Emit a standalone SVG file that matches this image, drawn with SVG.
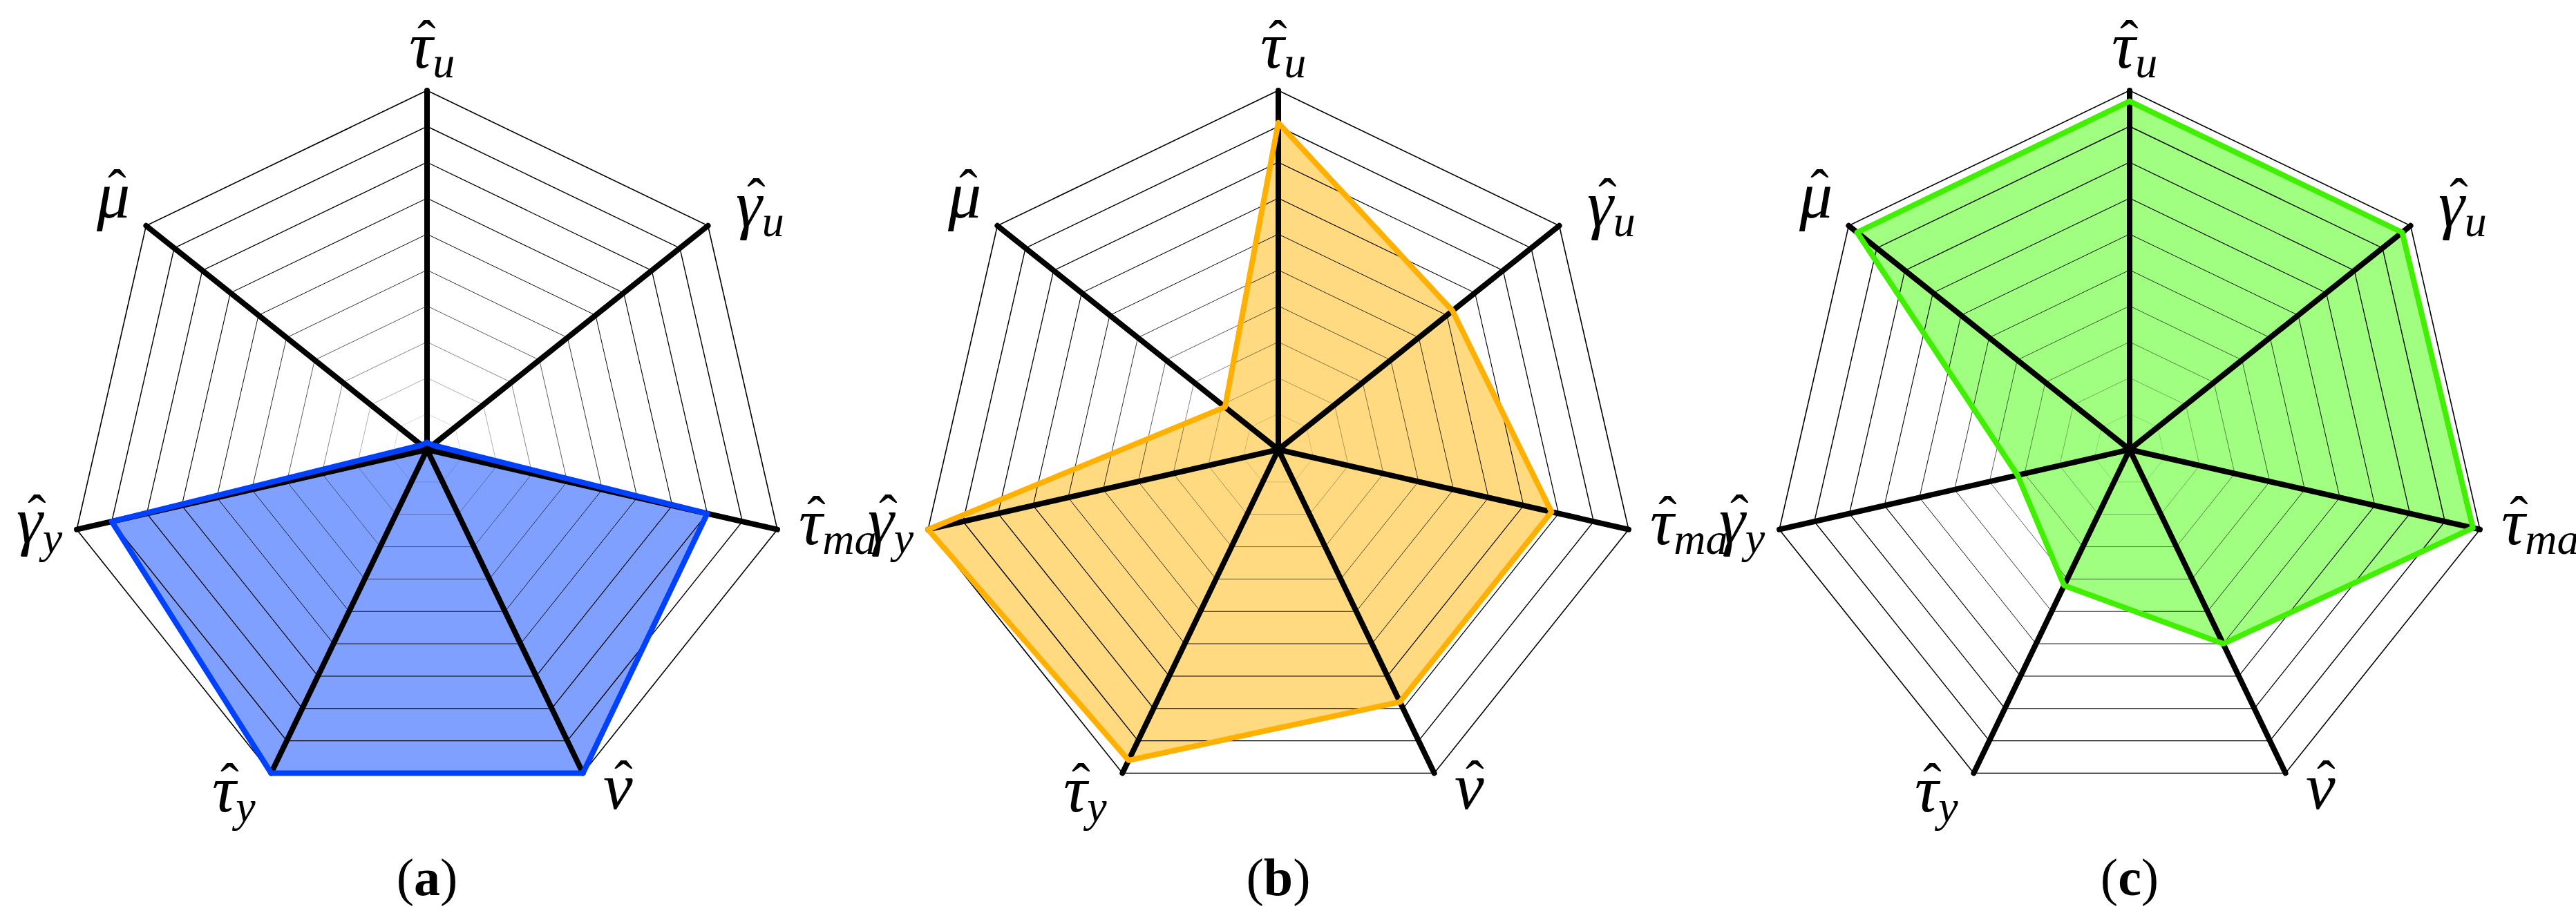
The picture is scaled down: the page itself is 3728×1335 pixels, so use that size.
<svg xmlns="http://www.w3.org/2000/svg" xmlns:xlink="http://www.w3.org/1999/xlink" width="3728" height="1335" viewBox="0 0 3728 1335">
<style>
.ring{fill:none;stroke:#000;stroke-width:1.6}
.axis{stroke:#000;stroke-width:8;stroke-linecap:round}
.lbl{font-family:"Liberation Serif",serif;font-style:italic;font-size:96px;fill:#000}
.sub{font-size:64px}
.hat{font-family:"Liberation Serif",serif;font-size:80px;fill:#000}
.cap{font-family:"Liberation Serif",serif;font-size:76px;fill:#000;text-anchor:middle}
.bold{font-weight:bold}
.da{fill:#80a0ff;stroke:none}.sa{fill:none;stroke:#0040ff;stroke-width:8;stroke-linejoin:round}
.db{fill:#ffda80;stroke:none}.sb{fill:none;stroke:#ffb000;stroke-width:8;stroke-linejoin:round}
.dc{fill:#a0ff80;stroke:none}.sc{fill:none;stroke:#40f000;stroke-width:8;stroke-linejoin:round}
</style>
<defs>
<polygon id="hep" points="0,-520 406.55,-324.21 506.96,115.71 225.62,468.5 -225.62,468.5 -506.96,115.71 -406.55,-324.21"/>
<g id="grid">
<use xlink:href="#hep" class="ring" transform="scale(0.1)" vector-effect="non-scaling-stroke"/>
<use xlink:href="#hep" class="ring" transform="scale(0.2)"/>
<use xlink:href="#hep" class="ring" transform="scale(0.3)"/>
<use xlink:href="#hep" class="ring" transform="scale(0.4)"/>
<use xlink:href="#hep" class="ring" transform="scale(0.5)"/>
<use xlink:href="#hep" class="ring" transform="scale(0.6)"/>
<use xlink:href="#hep" class="ring" transform="scale(0.7)"/>
<use xlink:href="#hep" class="ring" transform="scale(0.8)"/>
<use xlink:href="#hep" class="ring" transform="scale(0.9)"/>
<use xlink:href="#hep" class="ring"/>
</g>
<g id="axes">
<line class="axis" x1="0" y1="0" x2="0" y2="-520"/>
<line class="axis" x1="0" y1="0" x2="406.55" y2="-324.21"/>
<line class="axis" x1="0" y1="0" x2="506.96" y2="115.71"/>
<line class="axis" x1="0" y1="0" x2="225.62" y2="468.5"/>
<line class="axis" x1="0" y1="0" x2="-225.62" y2="468.5"/>
<line class="axis" x1="0" y1="0" x2="-506.96" y2="115.71"/>
<line class="axis" x1="0" y1="0" x2="-406.55" y2="-324.21"/>
</g>
<g id="labels">
<text class="lbl" x="-26" y="-553">τ<tspan class="sub" dy="14">u</tspan></text><text class="hat" x="-14" y="-566">ˆ</text>
<text class="lbl" x="-478" y="-336">μ</text><text class="hat" x="-462" y="-350">ˆ</text>
<text class="lbl" x="447" y="-323">γ<tspan class="sub" dy="14">u</tspan></text><text class="hat" x="463" y="-337">ˆ</text>
<text class="lbl" x="-594" y="135">γ<tspan class="sub" dy="14">y</tspan></text><text class="hat" x="-578" y="121">ˆ</text>
<text class="lbl" x="538" y="137">τ<tspan class="sub" dy="14">ma</tspan></text><text class="hat" x="550" y="123">ˆ</text>
<text class="lbl" x="-311" y="524">τ<tspan class="sub" dy="14">y</tspan></text><text class="hat" x="-299" y="510">ˆ</text>
<text class="lbl" x="255" y="520">ν</text><text class="hat" x="271" y="506">ˆ</text>
</g>
</defs>
<g id="chart-a" transform="translate(618,651)">
<polygon class="da" points="0,-10.4 8.1,-6.5 405.6,92.6 225.6,468.5 -225.6,468.5 -456.3,104.1 -8.1,-6.5"/>
<use xlink:href="#grid"/><use xlink:href="#axes"/>
<polygon class="sa" points="0,-10.4 8.1,-6.5 405.6,92.6 225.6,468.5 -225.6,468.5 -456.3,104.1 -8.1,-6.5"/>
<use xlink:href="#labels"/>
<text class="cap" x="0" y="645">(<tspan class="bold">a</tspan>)</text>
</g>
<g id="chart-b" transform="translate(1850,651)">
<polygon class="db" points="0,-473.2 252.1,-201 395.4,90.3 176,365.4 -216.6,449.8 -507,115.7 -77.2,-61.6"/>
<use xlink:href="#grid"/><use xlink:href="#axes"/>
<polygon class="sb" points="0,-473.2 252.1,-201 395.4,90.3 176,365.4 -216.6,449.8 -507,115.7 -77.2,-61.6"/>
<use xlink:href="#labels"/>
<text class="cap" x="0" y="645">(<tspan class="bold">b</tspan>)</text>
</g>
<g id="chart-c" transform="translate(3082,651)">
<polygon class="dc" points="0,-504.4 394.4,-314.5 496.8,113.4 135.4,281.1 -94.8,196.8 -162.2,37 -394.4,-314.5"/>
<use xlink:href="#grid"/><use xlink:href="#axes"/>
<polygon class="sc" points="0,-504.4 394.4,-314.5 496.8,113.4 135.4,281.1 -94.8,196.8 -162.2,37 -394.4,-314.5"/>
<use xlink:href="#labels"/>
<text class="cap" x="0" y="645">(<tspan class="bold">c</tspan>)</text>
</g>
</svg>
